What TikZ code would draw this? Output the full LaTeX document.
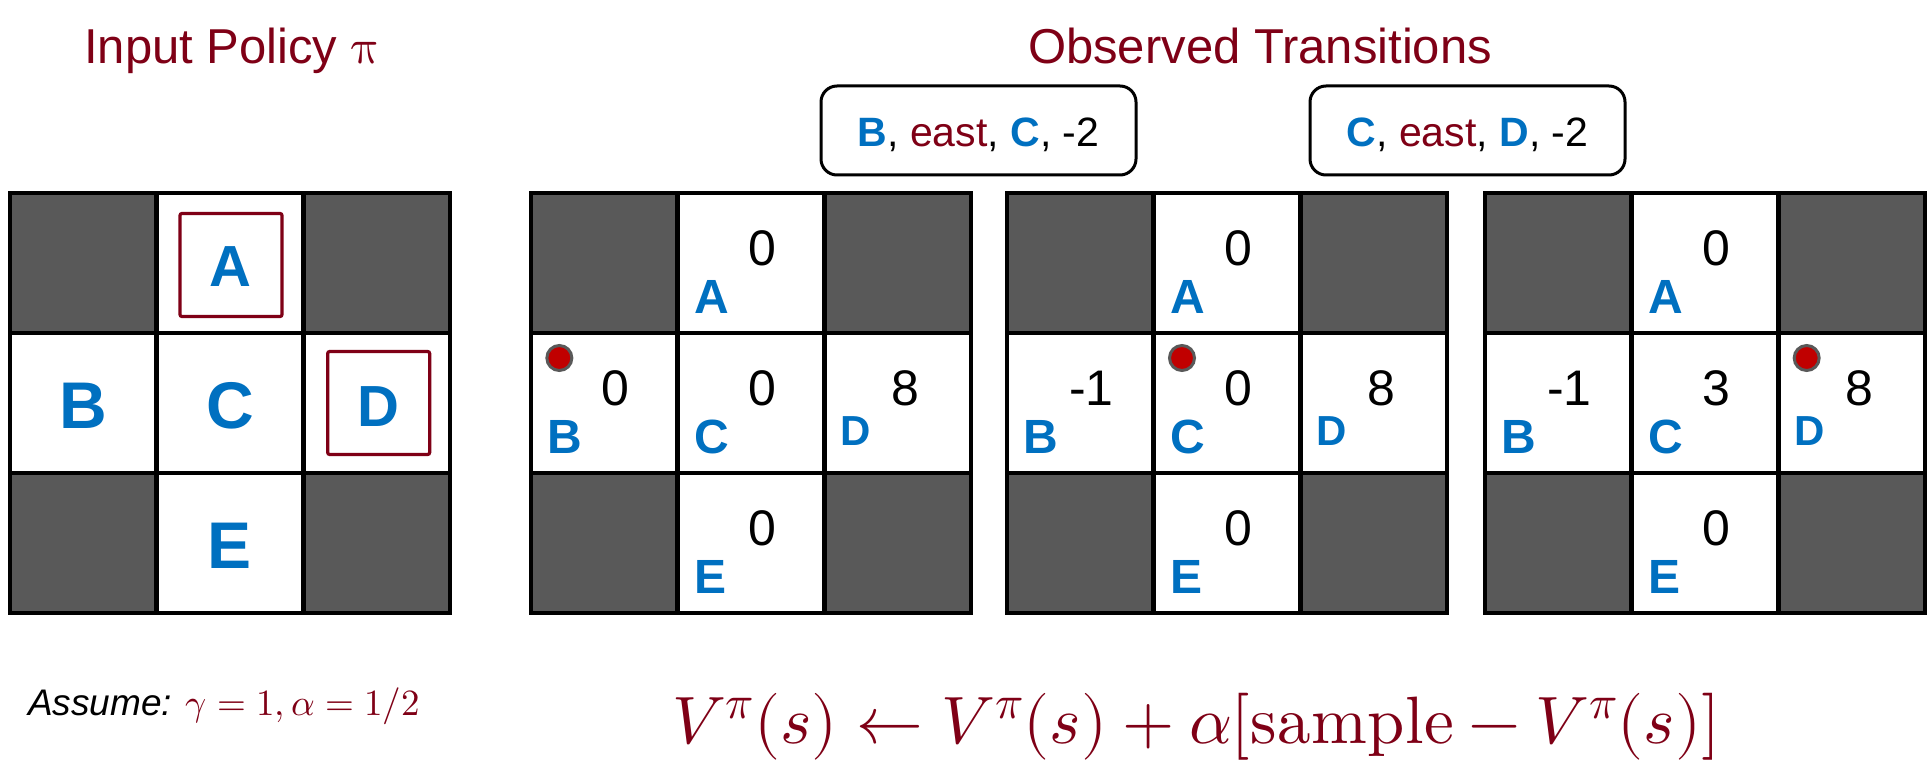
\documentclass[tikz,border=0pt]{standalone}
\usepackage{fontspec}
\usepackage{unicode-math}
\setmainfont{Liberation Sans}
\setmathfont{Latin Modern Math}
\definecolor{dred}{RGB}{127,0,22}
\definecolor{sblue}{RGB}{0,112,192}
\definecolor{wallgray}{RGB}{89,89,89}
\definecolor{dotred}{RGB}{192,0,0}
\newcommand\fsz[1]{\fontsize{#1}{#1}\selectfont}
\tikzset{
  cell/.style={draw=black,line width=4.5pt,minimum width=146.67pt,minimum height=140pt,inner sep=0pt,outer sep=0pt},
  wall/.style={cell,fill=wallgray},
  open/.style={cell,fill=white},
  bigl/.style={anchor=base,inner sep=0pt,text=sblue,font=\fsz{66}\bfseries},
  smalll/.style={anchor=base west,inner sep=0pt,text=sblue,font=\fsz{48}\bfseries},
  vall/.style={anchor=center,inner sep=0pt,text=black,font=\fsz{50}},
  polbox/.style={draw=dred,line width=3.2pt,rounded corners=2pt,minimum width=102pt,minimum height=103pt,inner sep=0pt},
  agent/.style={circle,fill=dotred,draw=wallgray,line width=3pt,minimum size=25pt,inner sep=0pt},
  tbox/.style={draw=black,line width=3pt,rounded corners=16pt,minimum width=315pt,minimum height=89pt,inner sep=0pt,font=\fsz{41},text height=33pt,text depth=0pt},
  title/.style={anchor=base,inner sep=0pt,text=dred,font=\fsz{49}}
}
\newcommand\gridcells[2]{%
  \foreach \r in {0,1,2}{\foreach \c in {0,1,2}{%
    \pgfmathtruncatemacro{\w}{and(\r!=1,\c!=1)}%
    \ifnum\w=1 \def\sty{wall}\else\def\sty{open}\fi
    \node[\sty] (#1\r\c) at ({#2+(\c+0.5)*146.67},{193+(\r+0.5)*140}) {};
  }}%
}
\newcommand\valgrid[8]{%
  \gridcells{#1}{#2}
  \node[smalll] (#1lA) at ([shift={(-57,50)}]#101.center) {A};
  \node[smalll] (#1lB) at ([shift={(-57,50)}]#110.center) {B};
  \node[smalll] (#1lC) at ([shift={(-57,50)}]#111.center) {C};
  \node[smalll,font=\fsz{42}\bfseries] (#1lD) at ([shift={(-57,42)}]#112.center) {D};
  \node[smalll] (#1lE) at ([shift={(-57,50)}]#121.center) {E};
  \node[vall] (#1vA) at ([shift={(11,-15)}]#101.center) {#3};
  \node[vall] (#1vB) at ([shift={(11,-15)}]#110.center) {#4};
  \node[vall] (#1vC) at ([shift={(11,-15)}]#111.center) {#5};
  \node[vall] (#1vD) at ([shift={(8,-15)}]#112.center) {#6};
  \node[vall] (#1vE) at ([shift={(11,-15)}]#121.center) {#7};
  \node[agent] (#1dot) at ([shift={(-45,-45)}]#1#8.center) {};
}
\begin{document}
\begin{tikzpicture}[x=1pt,y=-1pt]
\useasboundingbox (0,0) rectangle (1932,767);
\fill[white] (0,0) rectangle (1932,767);

% titles
\node[title] (t1) at (232,64) {Input Policy $\uppi$};
\node[title] (t2) at (1260,64) {Observed Transitions};

% transition boxes
\node[tbox] (tr1) at (978.5,130.5) {\textcolor{sblue}{\bfseries B}, \textcolor{dred}{east}, \textcolor{sblue}{\bfseries C}, -2};
\node[tbox] (tr2) at (1467.5,130.5) {\textcolor{sblue}{\bfseries C}, \textcolor{dred}{east}, \textcolor{sblue}{\bfseries D}, -2};

% policy grid
\gridcells{g1-}{10}
\node[polbox] (pA) at ([shift={(1,2)}]g1-01.center) {};
\node[polbox] (pD) at ([shift={(2,0)}]g1-12.center) {};
\node[bigl,font=\fsz{58}\bfseries] (l1A) at ([shift={(0,24)}]g1-01.center) {A};
\node[bigl] (l1B) at ([shift={(0,25)}]g1-10.center) {B};
\node[bigl] (l1C) at ([shift={(0,25)}]g1-11.center) {C};
\node[bigl,font=\fsz{58}\bfseries] (l1D) at ([shift={(2,23)}]g1-12.center) {D};
\node[bigl] (l1E) at ([shift={(0,25)}]g1-21.center) {E};

% value grids
\valgrid{g2-}{531}{0}{0}{0}{8}{0}{10}
\valgrid{g3-}{1007}{0}{-1}{0}{8}{0}{11}
\valgrid{g4-}{1485}{0}{-1}{3}{8}{0}{12}

% bottom texts
\node[anchor=base west,inner sep=0pt,font=\fsz{37}] (assume) at (28,715)
  {\itshape Assume: \textcolor{dred}{$\gamma=1,\alpha=1/2$}};
\node[anchor=base west,inner sep=0pt,text=dred,font=\fsz{67}] (update) at (672,743)
  {$V^{\pi}(s)\leftarrow V^{\pi}(s)+\alpha[\symup{sample}-V^{\pi}(s)]$};
\end{tikzpicture}
\end{document}
